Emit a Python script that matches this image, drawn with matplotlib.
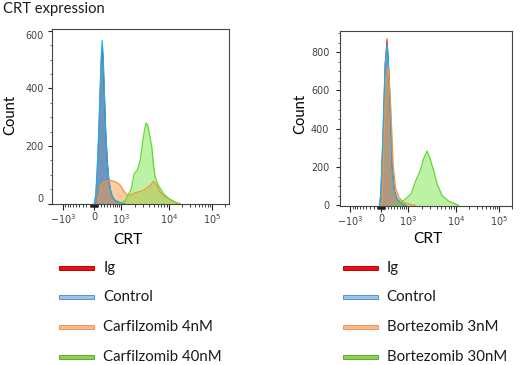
import matplotlib

matplotlib.use("Agg")
import matplotlib.pyplot as plt
import numpy as np
from matplotlib.patches import Rectangle
from matplotlib.ticker import FixedFormatter, FixedLocator, MultipleLocator

FIG_W: int = 520
FIG_H: int = 365
TEXT_FONT: str = "Lato"
TICK_FONT_SIZE: float = 6.9
TITLE_FONT_SIZE: float = 10.6
LEGEND_FONT_SIZE: float = 10.8
COUNT_FONT_SIZE: float = 10.6
CRT_FONT_SIZE: float = 11.2

# --- values (CRT in linear units, count per bin) ---
LEFT_IG_X = [0, 45, 85, 130, 175, 205, 235, 265, 300, 345, 400, 450, 510, 590, 700, 900, 1200]
LEFT_IG_Y = [0, 28, 115, 240, 395, 492, 545, 492, 385, 250, 144, 86, 48, 24, 11, 5, 0]
LEFT_CTRL_X = [0, 45, 85, 130, 175, 205, 235, 265, 300, 345, 400, 450, 510, 590, 700, 900, 1200]
LEFT_CTRL_Y = [0, 30, 120, 250, 410, 510, 566, 510, 400, 260, 150, 90, 50, 25, 12, 5, 0]
LEFT_LOW_X = [90, 145, 195, 320, 495, 695, 930, 1110, 1320, 1590, 2030, 3020, 4130, 4820,
              5650, 6570, 8990, 12600, 16500]
LEFT_LOW_Y = [0, 30, 66, 77, 81, 77, 66, 48, 31, 30, 38, 46, 63, 77, 63, 40, 21, 9, 0]
LEFT_HIGH_X = [950, 1230, 1430, 1670, 1940, 2240, 2590, 2840, 3130, 3430, 3680, 4000, 4480,
               4820, 5220, 6090, 7680, 10500, 15300, 18000]
LEFT_HIGH_Y = [0, 10, 30, 50, 105, 115, 150, 200, 250, 280, 272, 242, 196, 138, 92, 63, 35,
               14, 3, 0]

RIGHT_IG_X = [-50, -14, 49, 107, 166, 206, 245, 289, 332, 398, 496, 694, 893]
RIGHT_IG_Y = [0, 60, 392, 740, 870, 760, 600, 392, 183, 78, 34, 8, 0]
RIGHT_CTRL_X = [-50, -14, 49, 107, 170, 206, 245, 289, 332, 398, 496, 694, 893]
RIGHT_CTRL_Y = [0, 55, 380, 720, 840, 750, 590, 385, 180, 76, 33, 8, 0]
RIGHT_LOW_X = [-25, 29, 87, 146, 197, 236, 289, 354, 434, 562, 764, 1114, 1432]
RIGHT_LOW_Y = [0, 16, 392, 652, 722, 650, 480, 219, 96, 42, 16, 5, 0]
RIGHT_HIGH_X = [332, 496, 764, 1171, 1432, 1843, 2165, 2548, 2876, 3476, 4078, 5148, 7000,
                9550, 11290]
RIGHT_HIGH_Y = [0, 5, 26, 61, 122, 183, 244, 284, 252, 183, 113, 52, 22, 8, 0]

LEFT_LABELS = ["Ig", "Control", "Carfilzomib 4nM", "Carfilzomib 40nM"]
RIGHT_LABELS = ["Ig", "Control", "Bortezomib 3nM", "Bortezomib 30nM"]

X_MAJOR = [-1000, 0, 1000, 10000, 100000]
X_MAJOR_LABELS = [r"$\mathregular{-10^3}$", "0", r"$\mathregular{10^3}$",
                  r"$\mathregular{10^4}$", r"$\mathregular{10^5}$"]

# fill colour, alpha, edge colour, edge width per population
STYLES = [
    ("#e61428", 0.2, "#e01020", 0.6),
    ("#116faf", 0.6, "#1ab2e6", 0.9),
    ("#f59b4b", 0.5, "#f0963c", 0.9),
    ("#6ee13a", 0.45, "#62d830", 0.9),
]
LEGEND_COLORS = [
    ("#e8101c", "#c00000"),
    ("#9dc3e6", "#5b8fc9"),
    ("#f8b88c", "#e9955a"),
    ("#8fd14f", "#5fa83a"),
]

# biexponential-like display: asinh, stretched to match the reference's decade widths
LIN_WIDTH: float = 620.0
U_ANCHORS = np.arcsinh(np.array([-1e4, -1e3, 0, 1e3, 1e4, 1e5, 1e6]) / LIN_WIDTH)
P_ANCHORS = np.array([-85.7, -31.0, 0.0, 27.0, 75.0, 118.0, 161.0])


def forward(x):
    return np.interp(np.arcsinh(np.asarray(x, dtype=float) / LIN_WIDTH), U_ANCHORS, P_ANCHORS)


def inverse(p):
    return LIN_WIDTH * np.sinh(np.interp(np.asarray(p, dtype=float), P_ANCHORS, U_ANCHORS))


def x_minor_ticks() -> list[float]:
    ticks: list[float] = []
    for k in range(1, 10):
        for base in (10, 100):
            ticks += [k * base, -k * base]
        ticks += [k * 1000, k * 10000]
    ticks += [-2000, 200000]
    return ticks


def fpos(x: float, y: float) -> tuple[float, float]:
    return x / FIG_W, 1 - y / FIG_H


def style_axes(ax, ylim: tuple[float, float], ymajor: list[int], ypad: float) -> None:
    ax.set_xscale("function", functions=(forward, inverse))
    ax.set_ylim(*ylim)
    ax.xaxis.set_major_locator(FixedLocator(X_MAJOR))
    ax.xaxis.set_major_formatter(FixedFormatter(X_MAJOR_LABELS))
    ax.xaxis.set_minor_locator(FixedLocator(x_minor_ticks()))
    ax.yaxis.set_major_locator(FixedLocator(ymajor))
    ax.yaxis.set_minor_locator(MultipleLocator(50))
    ax.tick_params(axis="x", which="major", length=4.3, width=0.8, pad=1.5,
                   labelsize=TICK_FONT_SIZE, labelcolor="#404040", color="#222222")
    ax.tick_params(axis="x", which="minor", length=2.2, width=0.6, color="#222222")
    ax.tick_params(axis="y", which="major", length=3.2, width=0.8, pad=ypad,
                   labelsize=TICK_FONT_SIZE, labelcolor="#404040", color="#222222")
    ax.tick_params(axis="y", which="minor", length=1.6, width=0.6, color="#555555")
    for spine in ax.spines.values():
        spine.set_color("#444444")
        spine.set_linewidth(0.8)


def draw_hist(ax, series: list[tuple[list, list]]) -> None:
    for (xs, ys), (fill, alpha, edge, lw) in zip(series, STYLES):
        ax.fill_between(xs, 0, ys, color=fill, alpha=alpha, lw=0)
        ax.plot(xs, ys, color=edge, lw=lw)


def draw_legend(fig, x_handle: float, x_text: float, labels: list[str]) -> None:
    rows = [267.7, 297.3, 327.3, 356.7]
    for y, label, (face, edge) in zip(rows, labels, LEGEND_COLORS):
        x0, y0 = fpos(x_handle, y + 2)
        fig.add_artist(Rectangle((x0, y0), 35 / FIG_W, 4 / FIG_H, transform=fig.transFigure,
                                 facecolor=face, edgecolor=edge, lw=0.7))
        fig.text(*fpos(x_text, y), label, fontsize=LEGEND_FONT_SIZE, family=TEXT_FONT,
                 color="#1a1a1a", ha="left", va="center")


fig = plt.figure(figsize=(FIG_W / 100, FIG_H / 100), dpi=100)

ax_left = fig.add_axes([52.3 / FIG_W, 1 - 204.3 / FIG_H, 176.7 / FIG_W, 175 / FIG_H])
draw_hist(ax_left, [(LEFT_IG_X, LEFT_IG_Y), (LEFT_CTRL_X, LEFT_CTRL_Y),
                    (LEFT_LOW_X, LEFT_LOW_Y), (LEFT_HIGH_X, LEFT_HIGH_Y)])
style_axes(ax_left, (-2, 605), [0, 200, 400, 600], 3.0)
ax_left.set_xlim(-1645, 248600)
ylabels = ax_left.get_yticklabels()
ylabels[0].set_va("bottom")
ylabels[-1].set_va("top")

ax_right = fig.add_axes([340 / FIG_W, 1 - 206 / FIG_H, 172.3 / FIG_W, 175 / FIG_H])
draw_hist(ax_right, [(RIGHT_IG_X, RIGHT_IG_Y), (RIGHT_CTRL_X, RIGHT_CTRL_Y),
                     (RIGHT_LOW_X, RIGHT_LOW_Y), (RIGHT_HIGH_X, RIGHT_HIGH_Y)])
style_axes(ax_right, (-3, 910), [0, 200, 400, 600, 800], 4.5)
ax_right.set_xlim(-1600, 200900)

fig.text(*fpos(3, 8.5), "CRT expression", fontsize=TITLE_FONT_SIZE, family=TEXT_FONT,
         color="#1a1a1a", ha="left", va="center")
for x, y in [(10, 115), (300, 114)]:
    fig.text(*fpos(x, y), "Count", fontsize=COUNT_FONT_SIZE, family=TEXT_FONT,
             rotation=90, ha="center", va="center")
for x, y in [(128, 240), (427.7, 239)]:
    fig.text(*fpos(x, y), "CRT", fontsize=CRT_FONT_SIZE, family=TEXT_FONT,
             ha="center", va="center")

draw_legend(fig, 59.3, 103.3, LEFT_LABELS)
draw_legend(fig, 342.7, 386.7, RIGHT_LABELS)

fig.savefig("out.png", dpi=100)
plt.close(fig)
